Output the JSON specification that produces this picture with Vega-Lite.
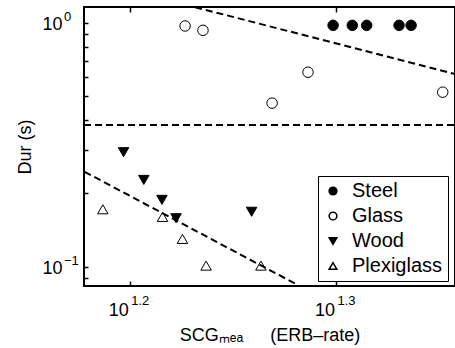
{
  "$schema": "https://vega.github.io/schema/vega-lite/v6.json",
  "width": 371,
  "height": 279,
  "autosize": {"type": "none"},
  "padding": {"left": 84, "top": 7, "right": 0, "bottom": 62},
  "config": {
    "font": "Liberation Sans",
    "view": {"stroke": "black", "strokeWidth": 2},
    "axis": {"grid": false, "domain": false, "labelColor": "black", "titleColor": "black", "tickColor": "black", "tickWidth": 1.5, "titleFontWeight": "normal", "labelOverlap": false, "labelFlush": false, "labelBound": false}
  },
  "datasets": {
    "pts": [
      {"material": "Steel", "x": 19.89, "y": 0.978},
      {"material": "Steel", "x": 20.32, "y": 0.978},
      {"material": "Steel", "x": 20.65, "y": 0.978},
      {"material": "Steel", "x": 21.41, "y": 0.978},
      {"material": "Steel", "x": 21.70, "y": 0.978},
      {"material": "Glass", "x": 16.86, "y": 0.972},
      {"material": "Glass", "x": 17.20, "y": 0.933},
      {"material": "Glass", "x": 19.34, "y": 0.628},
      {"material": "Glass", "x": 18.58, "y": 0.469},
      {"material": "Glass", "x": 22.48, "y": 0.520},
      {"material": "Wood", "x": 15.74, "y": 0.295},
      {"material": "Wood", "x": 16.10, "y": 0.227},
      {"material": "Wood", "x": 16.43, "y": 0.188},
      {"material": "Wood", "x": 16.69, "y": 0.158},
      {"material": "Wood", "x": 18.16, "y": 0.168},
      {"material": "Plexiglass", "x": 15.38, "y": 0.172},
      {"material": "Plexiglass", "x": 16.44, "y": 0.160},
      {"material": "Plexiglass", "x": 16.81, "y": 0.130},
      {"material": "Plexiglass", "x": 17.26, "y": 0.101},
      {"material": "Plexiglass", "x": 18.35, "y": 0.101}
    ],
    "fits": [
      {"seg": "upper", "x": 17.05, "y": 1.161},
      {"seg": "upper", "x": 22.79, "y": 0.6174},
      {"seg": "lower", "x": 15.07, "y": 0.2451},
      {"seg": "lower", "x": 19.12, "y": 0.0841}
    ],
    "threshold": [
      {"x": 15.06, "y": 0.381},
      {"x": 22.79, "y": 0.381}
    ]
  },
  "layer": [
    {
      "data": {"name": "fits"},
      "mark": {"type": "line", "color": "black", "strokeWidth": 2, "strokeDash": [7, 4], "clip": true},
      "encoding": {
        "x": {"field": "x", "type": "quantitative", "scale": {"type": "log", "domain": [15.06, 22.79], "nice": false},
          "axis": {"orient": "bottom", "values": [15.848931924611133, 19.952623149688797], "labelExpr": "datum.value < 17 ? '1.2' : '1.3'", "labelAlign": "left", "labelBaseline": "top", "labelOffset": 1, "labelFontSize": 13, "labelPadding": 13, "ticks": true, "tickSize": -5, "tickOpacity": 0, "title": null}},
        "y": {"field": "y", "type": "quantitative", "scale": {"type": "log", "domain": [0.0833, 1.163], "nice": false},
          "axis": {"orient": "left", "values": [0.1, 1], "labelExpr": "datum.value > 0.5 ? '0' : '−1'", "labelAlign": "left", "labelBaseline": "middle", "labelOffset": -6, "labelFontSize": 13, "labelPadding": 25.5, "ticks": true, "tickSize": -5, "tickOpacity": 0, "title": null}},
        "detail": {"field": "seg", "type": "nominal"}
      }
    },
    {
      "data": {"name": "threshold"},
      "mark": {"type": "line", "color": "black", "strokeWidth": 2, "strokeDash": [7, 4], "clip": true},
      "encoding": {
        "x": {"field": "x", "type": "quantitative", "scale": {"type": "log", "domain": [15.06, 22.79], "nice": false},
          "axis": {"orient": "top", "values": [15.848931924611133, 19.952623149688797], "labels": false, "tickSize": -5, "title": null}},
        "y": {"field": "y", "type": "quantitative", "scale": {"type": "log", "domain": [0.0833, 1.163], "nice": false}, "axis": null}
      }
    },
    {
      "data": {"name": "pts"},
      "mark": {"type": "point", "stroke": "black", "strokeWidth": 1, "size": 110, "opacity": 1},
      "encoding": {
        "x": {"field": "x", "type": "quantitative", "scale": {"type": "log", "domain": [15.06, 22.79], "nice": false},
          "axis": {"orient": "bottom", "values": [15.848931924611133, 19.952623149688797], "labelExpr": "'10'", "labelAlign": "right", "labelBaseline": "top", "labelOffset": -1.5, "labelFontSize": 18, "labelPadding": 20, "tickSize": -5,
            "title": "SCGₘₑₐ\u2003\u2002(ERB–rate)", "titleFontSize": 18, "titlePadding": 7}},
        "y": {"field": "y", "type": "quantitative", "scale": {"type": "log", "domain": [0.0833, 1.163], "nice": false},
          "axis": {"orient": "left", "values": [0.09, 0.1, 0.2, 0.3, 0.4, 0.5, 0.6, 0.7, 0.8, 0.9, 1], "labelExpr": "datum.value == 1 || datum.value == 0.1 ? '10' : ''", "labelAlign": "left", "labelBaseline": "middle", "labelOffset": 2, "labelFontSize": 18, "labelPadding": 46, "tickSize": -4,
            "title": "Dur (s)", "titleFontSize": 18, "titlePadding": 8}},
        "shape": {"field": "material", "type": "nominal",
          "scale": {"domain": ["Steel", "Glass", "Wood", "Plexiglass"], "range": ["circle", "circle", "triangle-down", "triangle-up"]},
          "legend": {"title": null, "orient": "none", "legendX": 234, "legendY": 169, "strokeColor": "black", "fillColor": "white", "padding": 5, "labelFontSize": 20, "symbolSize": 60, "rowPadding": 5, "labelOffset": 9, "labelColor": "black",
            "encode": {"symbols": {"update": {"stroke": {"value": "black"}, "strokeWidth": {"value": 1}}}}}},
        "fill": {"field": "material", "type": "nominal",
          "scale": {"domain": ["Steel", "Glass", "Wood", "Plexiglass"], "range": ["black", "transparent", "black", "transparent"]},
          "legend": {"title": null, "orient": "none", "legendX": 234, "legendY": 169, "strokeColor": "black", "fillColor": "white", "padding": 5, "labelFontSize": 20, "symbolSize": 60, "rowPadding": 5, "labelOffset": 9, "labelColor": "black",
            "encode": {"symbols": {"update": {"stroke": {"value": "black"}, "strokeWidth": {"value": 1}}}}}}
      }
    }
  ],
  "resolve": {"axis": {"x": "independent", "y": "independent"}}
}
